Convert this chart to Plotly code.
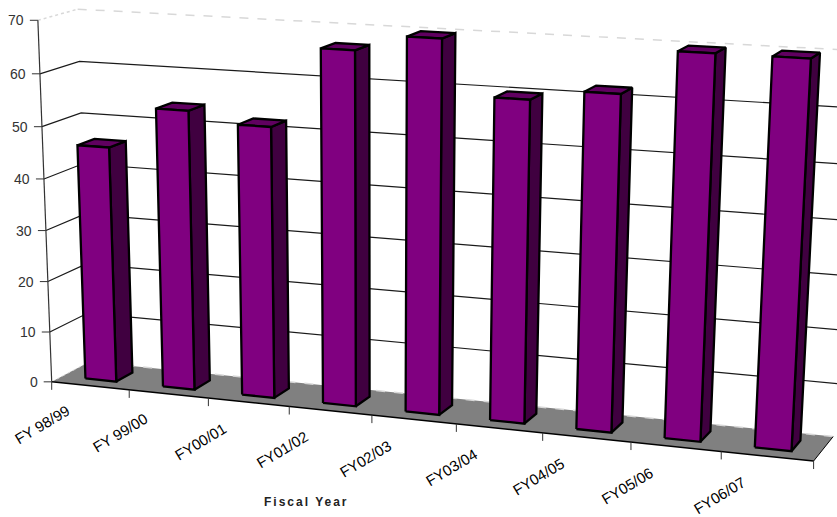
import numpy as np
import plotly.graph_objects as go

categories = ["FY 98/99", "FY 99/00", "FY00/01", "FY01/02", "FY02/03", "FY03/04", "FY04/05", "FY05/06", "FY06/07"]
values = [46, 54, 52, 67, 70, 60, 62, 70, 70]
value_ticks = [0, 10, 20, 30, 40, 50, 60, 70]
axis_title = "Fiscal Year"

VMAX = 70
BAR_LO, BAR_HI = 0.30, 0.70      # bar extent inside a category
DEPTH_LO, DEPTH_HI = 0.28, 0.72  # bar extent along depth

# Camera calibration: (category pos, value, depth) seen at (px, py)
cal_world = [(0, 0, 0), (9, 0, 0), (0, 0, 1), (9, 0, 1), (0, 70, 0), (0, 70, 1), (9, 70, 1), (0, 60, 0), (0, 60, 1),
             (1, 0, 0), (2, 0, 0), (3, 0, 0), (4, 0, 0), (5, 0, 0), (6, 0, 0), (7, 0, 0), (8, 0, 0)]
cal_px = [53, 813, 87, 833, 36, 79, 854, 39, 81, 130, 209, 289, 372, 456, 543, 631, 722]
cal_py = [381, 461, 363, 436, 21, 9, 50, 74, 61, 389, 398, 406, 415, 424, 433, 443, 452]

A, b = [], []
for (u, v, w), x, y in zip(cal_world, cal_px, cal_py):
    X = [u / 9, v / VMAX, w]
    A.append(X + [1, 0, 0, 0, 0] + [-x * c for c in X]); b.append(x)
    A.append([0, 0, 0, 0] + X + [1] + [-y * c for c in X]); b.append(y)
H = np.linalg.lstsq(np.array(A, float), np.array(b, float), rcond=None)[0]


def P(u, v, w):
    X = np.array([u / 9, v / VMAX, w, 1.0])
    d = H[8:11] @ X[:3] + 1
    return float(H[:4] @ X / d), float(H[4:8] @ X / d)


def path(pts):
    xs, ys = zip(*[P(*p) for p in pts])
    return list(xs), list(ys)


fig = go.Figure()


def poly(pts, fill, line="#000000", width=2.3):
    x, y = path(pts + pts[:1])
    fig.add_trace(go.Scatter(x=x, y=y, mode="lines", fill="toself", fillcolor=fill,
                             line=dict(color=line, width=width), hoverinfo="skip", showlegend=False))


def seg(pts, color="#000000", width=1, dash="solid"):
    x, y = path(pts)
    fig.add_trace(go.Scatter(x=x, y=y, mode="lines", line=dict(color=color, width=width, dash=dash),
                             hoverinfo="skip", showlegend=False))


# floor
x, y = path([(0, 0, 0), (9, 0, 0), (9, 0, 1), (0, 0, 1), (0, 0, 0)])
fig.add_trace(go.Scatter(x=x, y=y, mode="lines", fill="toself", fillcolor="#808080",
                         line=dict(width=0), hoverinfo="skip", showlegend=False))
seg([(0, 0, 1), (9, 0, 1)], "#d8d8d8", 1.5, "dash")
seg([(0, 0, 0), (0, 0, 1)], "#d8d8d8", 1, "dot")
seg([(9, 0, 0), (9, 0, 1)], "#000000", 1)
seg([(0, 0, 0), (9, 0, 0)], "#000000", 1.5)

# walls' grid
for t in value_ticks[1:]:
    if t == VMAX:
        seg([(0, t, 0), (0, t, 1)], "#d8d8d8", 1.5, "dot")
        seg([(0, t, 1), (9.3, t, 1)], "#d8d8d8", 1.5, "dash")
    else:
        seg([(0, t, 0), (0, t, 1), (9.3, t, 1)], "#1a1a1a", 1.2)

# value axis + ticks
seg([(0, 0, 0), (0, VMAX, 0)], "#333333", 1.2)
annotations = []
for t in value_ticks:
    px, py = P(0, t, 0)
    fig.add_trace(go.Scatter(x=[px - 8, px], y=[py, py], mode="lines", line=dict(color="#333333", width=1),
                             hoverinfo="skip", showlegend=False))
    annotations.append(dict(x=px - 12, y=py, text=str(t), showarrow=False, xanchor="right", yanchor="middle",
                            font=dict(family="Liberation Sans", size=14, color="#333333")))

# category ticks + labels
for i in range(10):
    px, py = P(i, 0, 0)
    fig.add_trace(go.Scatter(x=[px, px], y=[py, py + 8], mode="lines", line=dict(color="#333333", width=1),
                             hoverinfo="skip", showlegend=False))
for i, c in enumerate(categories):
    px, py = P(i + 0.5, 0, 0)
    annotations.append(dict(x=px - 48, y=py + 39, text=c, showarrow=False, textangle=-31,
                            xanchor="center", yanchor="middle",
                            font=dict(family="Liberation Sans", size=15, color="#000000")))
annotations.append(dict(x=306, y=502, text=f"<b>{axis_title}</b>", showarrow=False, xanchor="center",
                        yanchor="middle", font=dict(family="Liberation Sans", size=12, color="#222222")))

# bars
for i, val in enumerate(values):
    a, c = i + BAR_LO, i + BAR_HI
    d0, d1 = DEPTH_LO, DEPTH_HI
    poly([(c, 0, d0), (c, 0, d1), (c, val, d1), (c, val, d0)], "#400040")
    poly([(a, val, d0), (c, val, d0), (c, val, d1), (a, val, d1)], "#600060")
    poly([(a, 0, d0), (c, 0, d0), (c, val, d0), (a, val, d0)], "#800080")

fig.update_layout(
    width=837, height=517, margin=dict(l=0, r=0, t=0, b=0),
    paper_bgcolor="#ffffff", plot_bgcolor="#ffffff", showlegend=False, annotations=annotations,
    xaxis=dict(range=[0, 837], visible=False, fixedrange=True),
    yaxis=dict(range=[517, 0], visible=False, fixedrange=True),
)
post = """
document.body.style.margin = '0';
document.querySelectorAll('.annotation-text').forEach(function(t){
  if (t.textContent === 'Fiscal Year') { t.style.letterSpacing = '2px'; }
});
"""
fig.write_html("out.html", post_script=post, config={"displayModeBar": False})
